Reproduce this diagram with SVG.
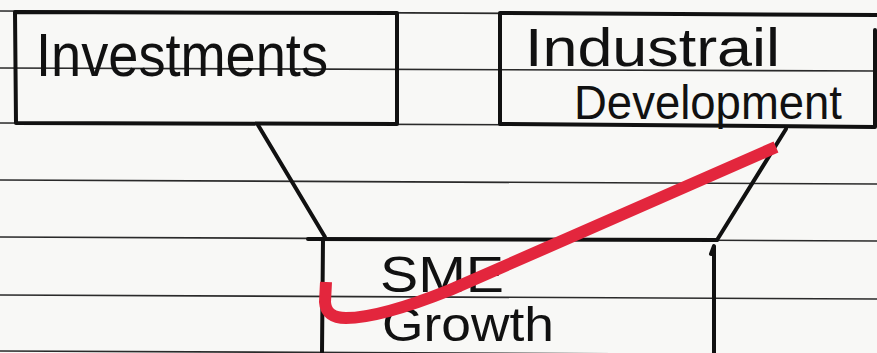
<svg xmlns="http://www.w3.org/2000/svg" width="877" height="353" viewBox="0 0 877 353">
  <style>
    .rule { stroke: #2a2a2a; stroke-width: 1.6; fill: none; }
    .box { stroke: #111; stroke-width: 4; fill: none; stroke-linecap: round; stroke-linejoin: round; }
    .conn { stroke: #111; stroke-width: 4; fill: none; stroke-linecap: round; }
    .hand { font-family: "Liberation Sans", "DejaVu Sans", sans-serif; fill: #111; font-weight: normal; }
    .red { stroke: #e3263d; stroke-width: 12; fill: none; stroke-linecap: butt; stroke-linejoin: round; }
  </style>
  <rect x="0" y="0" width="877" height="353" fill="#f8f8f6"/>
  <g id="ruled-paper">
    <line class="rule" x1="0" y1="11" x2="877" y2="15"/>
    <line class="rule" x1="0" y1="68" x2="877" y2="71"/>
    <line class="rule" x1="0" y1="123" x2="877" y2="126"/>
    <line class="rule" x1="0" y1="180" x2="877" y2="184"/>
    <line class="rule" x1="0" y1="237" x2="877" y2="241"/>
    <line class="rule" x1="0" y1="295" x2="877" y2="299"/>
    <line class="rule" x1="0" y1="351" x2="877" y2="355"/>
  </g>
  <g id="investments">
    <path class="box" d="M15 12 L397 13 L397 124 L16 123 Z"/>
    <text class="hand" x="36" y="76" font-size="62" textLength="292" lengthAdjust="spacingAndGlyphs">Investments</text>
  </g>
  <g id="industrail-development">
    <path class="box" d="M877 15 L500 13 L500 124 L875 127 L875 30"/>
    <text class="hand" x="525" y="66" font-size="54" textLength="255" lengthAdjust="spacingAndGlyphs">Industrail</text>
    <text class="hand" x="574" y="119" font-size="48" textLength="268" lengthAdjust="spacingAndGlyphs">Development</text>
  </g>
  <g id="sme-growth">
    <path class="box" d="M308 239 L717 240"/>
    <path class="box" d="M323 239 L322 353"/>
    <path class="box" d="M711 254 L714 246 L714 353"/>
    <text class="hand" x="380" y="292" font-size="50" textLength="124" lengthAdjust="spacingAndGlyphs">SME</text>
    <text class="hand" x="382" y="341" font-size="48" textLength="172" lengthAdjust="spacingAndGlyphs">Growth</text>
  </g>
  <g id="connectors">
    <path class="conn" d="M258 125 L325 237"/>
    <path class="conn" d="M786 129 L717 240"/>
    <path class="red" d="M326 282 L325 302 Q326 318 346 318 Q380 318 450 290 L776 147"/>
  </g>
</svg>
